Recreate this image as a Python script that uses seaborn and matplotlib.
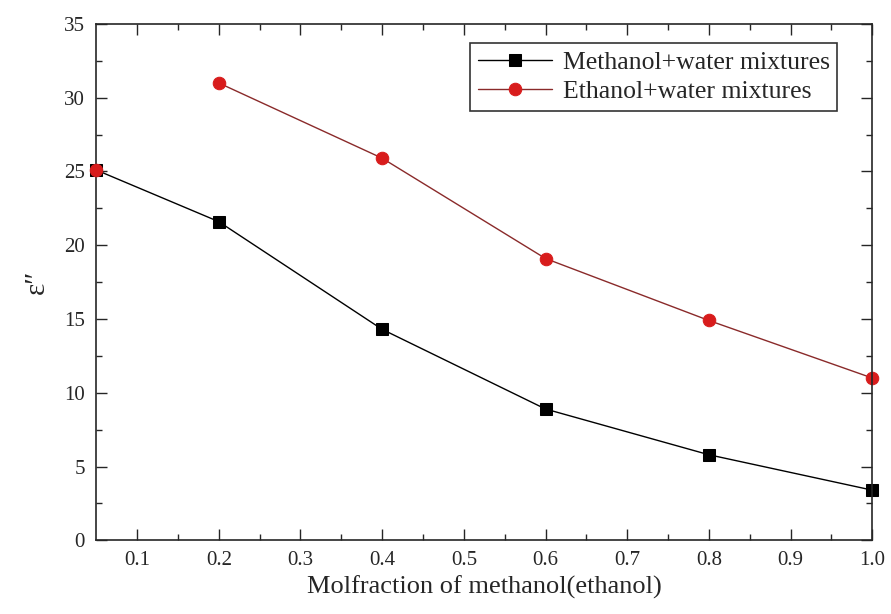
import matplotlib.pyplot as plt
import pandas as pd
import seaborn as sns

# data
molfraction = [0.05, 0.2, 0.4, 0.6, 0.8, 1.0]
methanol_eps = [25.1, 21.6, 14.3, 8.9, 5.8, 3.4]
ethanol_eps = [25.1, 31.0, 25.9, 19.1, 14.9, 11.0]

x_ticks = [0.1, 0.2, 0.3, 0.4, 0.5, 0.6, 0.7, 0.8, 0.9, 1.0]
y_ticks = [0, 5, 10, 15, 20, 25, 30, 35]

sns.set_style("ticks")
plt.rcParams["font.family"] = ["Liberation Serif", "DejaVu Serif"]

df_m = pd.DataFrame({"x": molfraction, "y": methanol_eps})
df_e = pd.DataFrame({"x": molfraction, "y": ethanol_eps})

fig = plt.figure(figsize=(8.91, 6.14), dpi=100)
ax = fig.add_axes([0.108, 0.12, 0.871, 0.841])

red = "#d81c1c"
sns.lineplot(data=df_m, x="x", y="y", ax=ax, color="black", lw=1.0,
             marker="s", markersize=9, markeredgecolor="black",
             label="Methanol+water mixtures", clip_on=False)
# ethanol line starts at 0.2; the pure-water point is drawn on its own
sns.lineplot(data=df_e.iloc[1:], x="x", y="y", ax=ax, color="#8a2a2a", lw=1.0,
             marker="o", markersize=9, markerfacecolor=red, markeredgecolor=red,
             label="Ethanol+water mixtures", clip_on=False)
sns.scatterplot(data=df_e.iloc[:1], x="x", y="y", ax=ax, color=red, marker="o",
                s=81, edgecolor=red, clip_on=False, zorder=5)

ax.set_xlim(0.05, 1.0)
ax.set_ylim(0, 35)
ax.set_xticks(x_ticks)
ax.set_xticklabels([f"{v:.1f}" for v in x_ticks])
ax.set_yticks(y_ticks)
ax.set_xticks([v + 0.05 for v in x_ticks[:-1]], minor=True)
ax.set_yticks([v + 2.5 for v in y_ticks[:-1]], minor=True)
ax.tick_params(which="both", direction="in", top=True, right=True,
               labelsize=15, width=1.0, pad=8)
ax.tick_params(which="major", length=8)
ax.tick_params(which="minor", length=4)
for s in ax.spines.values():
    s.set_linewidth(1.2)

ax.set_xlabel("Molfraction of methanol(ethanol)", fontsize=19, labelpad=4)
ax.set_ylabel("ε″", fontsize=21, labelpad=10)

leg = ax.legend(loc="upper right", bbox_to_anchor=(0.955, 0.963), fontsize=18.5,
                frameon=True, fancybox=False, edgecolor="black",
                handlelength=2.9, handletextpad=0.4, borderpad=0.3,
                labelspacing=0.25, borderaxespad=0)
leg.get_frame().set_linewidth(1.2)

fig.savefig("out.png", dpi=100)
